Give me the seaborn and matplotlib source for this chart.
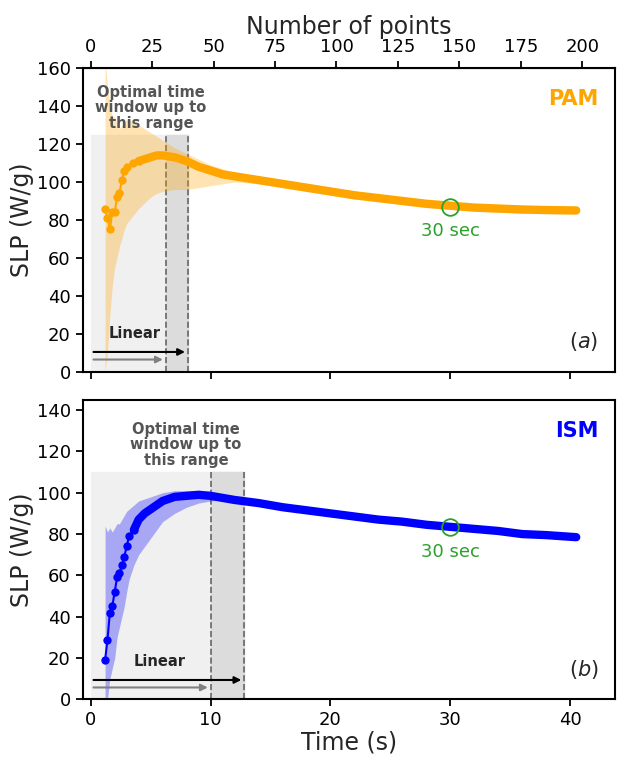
import numpy as np
import matplotlib.pyplot as plt
import seaborn as sns

sns.set_style("ticks")
plt.rcParams["font.family"] = ["DejaVu Sans"]

# PAM readings (time s, SLP W/g)
pam_t = [1.2, 1.4, 1.6, 1.8, 2.0, 2.2, 2.4, 2.6, 2.8, 3.0, 3.5, 4.0, 4.5, 5.0, 5.5, 6.0, 6.5, 7.0,
         8.0, 9.0, 10.0, 11.0, 12.0, 14.0, 16.0, 18.0, 20.0, 22.0, 24.0, 26.0, 28.0, 30.0,
         32.0, 34.0, 36.0, 38.0, 40.5]
pam_y = [86, 81, 75, 84, 84, 92, 94, 101, 106, 108, 110, 111, 112, 113, 114, 114, 113.5, 113,
         111, 108, 106, 104, 103, 101, 99, 97, 95, 93, 91.5, 90, 88.5, 87.5,
         86.5, 86, 85.5, 85.2, 85]
pam_hi = [165, 150, 140, 135, 134, 131, 128, 130, 131, 133, 132, 130, 128, 126, 124, 122, 120, 118,
          115, 112, 109, 107, 105, 103, 101, 99, 97, 95, 93.5, 92, 90.5, 89.5,
          88.5, 88, 87.5, 87, 87]
pam_lo = [0, 10, 30, 45, 55, 60, 66, 70, 75, 78, 82, 86, 89, 92, 94, 95, 95.5, 96,
          96, 97, 98, 99, 100, 99, 97, 95, 93, 91, 89.5, 88, 86.5, 85.5,
          84.5, 84, 83.5, 83.3, 83]

# ISM readings
ism_t = [1.2, 1.4, 1.6, 1.8, 2.0, 2.2, 2.4, 2.6, 2.8, 3.0, 3.2, 3.6, 4.0, 4.5, 5.0, 5.5, 6.0, 7.0,
         8.0, 9.0, 10.0, 11.0, 12.0, 14.0, 16.0, 18.0, 20.0, 22.0, 24.0, 26.0, 28.0, 30.0,
         32.0, 34.0, 36.0, 38.0, 40.5]
ism_y = [19, 29, 42, 45, 52, 59, 61, 65, 69, 74, 79, 82, 87, 90, 92, 94, 96, 98,
         98.5, 99, 98.5, 97.5, 96.5, 95, 93, 91.5, 90, 88.5, 87, 86, 84.5, 83.5,
         82.5, 81.5, 80, 79.5, 78.5]
ism_hi = [84, 81, 83, 81, 83, 85, 85, 87, 89, 91, 92, 94, 96, 97, 98, 99, 100, 101,
          101, 101, 100, 98.5, 97.5, 96, 94, 92.5, 91, 89.5, 88, 87, 85.5, 84.5,
          83.5, 82.5, 81, 80.5, 79.5]
ism_lo = [0, 0, 10, 15, 20, 30, 35, 40, 45, 52, 58, 65, 70, 74, 78, 82, 86, 90,
          93, 95, 96, 96.5, 95.5, 94, 92, 90.5, 89, 87.5, 86, 85, 83.5, 82.5,
          81.5, 80.5, 79, 78.5, 77.5]

panels = [
    dict(t=pam_t, y=pam_y, hi=pam_hi, lo=pam_lo, color="orange", name="PAM", tag="a",
         ylim=(0, 160), grey=(8.1, 125), dash=(6.25, 8.1), y30=87),
    dict(t=ism_t, y=ism_y, hi=ism_hi, lo=ism_lo, color="blue", name="ISM", tag="b",
         ylim=(0, 145), grey=(12.8, 110), dash=(10.0, 12.8), y30=83.5),
]

fig = plt.figure(figsize=(6.31, 7.57), dpi=100)
axes = [fig.add_axes([0.131, 0.509, 0.843, 0.401]), fig.add_axes([0.131, 0.076, 0.843, 0.396])]

for ax, p in zip(axes, panels):
    ax.set_xlim(-0.67, 43.7)
    ax.set_ylim(*p["ylim"])
    gx, gy = p["grey"]
    ax.fill_between([0, gx], 0, gy, color="#f0f0f0", zorder=0)
    ax.fill_between([p["dash"][0], p["dash"][1]], 0, gy, color="#dcdcdc", zorder=0)
    for xv in p["dash"]:
        ax.plot([xv, xv], [0, gy], ls="--", color="#666666", lw=1.2, zorder=1)
    ax.fill_between(p["t"], p["lo"], p["hi"], color=p["color"], alpha=0.3, lw=0, zorder=2)
    sns.lineplot(x=p["t"][:12], y=p["y"][:12], ax=ax, color=p["color"], marker="o",
                 markersize=6, markeredgewidth=0, lw=1.5, zorder=3)
    sns.lineplot(x=p["t"][11:], y=p["y"][11:], ax=ax, color=p["color"], lw=6, zorder=3)
    ax.plot(30, p["y30"], "o", ms=12, mfc="none", mec="#2ca02c", mew=1.3, zorder=4)
    ax.text(30, p["y30"] - 8, "30 sec", color="#2ca02c", fontsize=13, ha="center", va="top")
    ax.text(0.97, 0.93, p["name"], transform=ax.transAxes, color=p["color"], fontsize=15,
            fontweight="bold", ha="right", va="top")
    ax.text(0.97, 0.06, f"$({p['tag']})$", transform=ax.transAxes, fontsize=15, ha="right", va="bottom")
    ax.text(gx * 0.62, gy + 2, "Optimal time\nwindow up to\nthis range", color="#555555",
            fontsize=10.5, fontweight="bold", ha="center", va="bottom", linespacing=1.05)
    yr = p["ylim"][1]
    ax.annotate("", xy=(gx, yr * 0.065), xytext=(0, yr * 0.065),
                arrowprops=dict(arrowstyle="-|>", color="black", lw=1.5, mutation_scale=10))
    ax.annotate("", xy=(p["dash"][0], yr * 0.04), xytext=(0, yr * 0.04),
                arrowprops=dict(arrowstyle="-|>", color="grey", lw=1.5, mutation_scale=10))
    ax.text(gx * 0.45, yr * 0.10, "Linear", fontsize=10.5, fontweight="bold", ha="center", va="bottom")
    ax.set_xticks([0, 10, 20, 30, 40])
    ax.tick_params(labelsize=13, width=1.3, length=5, colors="black")
    for s in ax.spines.values():
        s.set_linewidth(1.5)
        s.set_color("black")
    ax.set_ylabel("SLP (W/g)", fontsize=17, labelpad=2)

axes[0].set_yticks(range(0, 161, 20))
axes[1].set_yticks(range(0, 141, 20))
axes[0].set_xticklabels([])
axes[1].set_xlabel("Time (s)", fontsize=17, labelpad=1)

top = axes[0].secondary_xaxis("top", functions=(lambda t: t / 0.205, lambda n: n * 0.205))
top.set_xticks(range(0, 201, 25))
top.tick_params(labelsize=13, width=1.3, length=5, colors="black")
top.set_xlabel("Number of points", fontsize=17, labelpad=3)

fig.savefig("out.png", dpi=100)
